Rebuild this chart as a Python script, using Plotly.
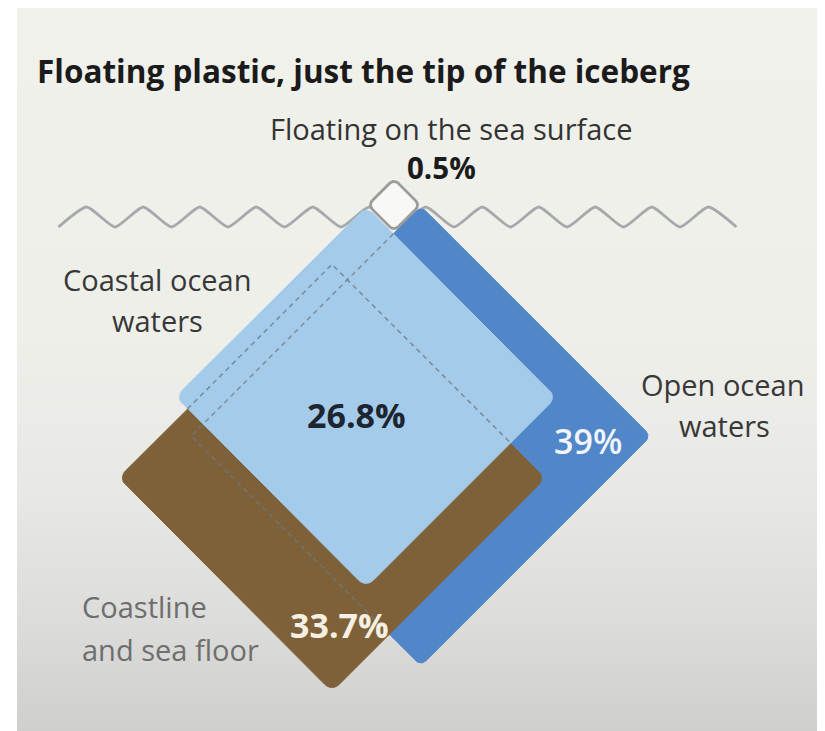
import numpy as np
import plotly.graph_objects as go

W, H = 825, 731          # page size
PAGE_MARGIN = 8          # default <body> margin of the written html page

# ---------------- data ----------------
categories = ["Floating on the sea surface", "Coastal ocean waters",
              "Open ocean waters", "Coastline and sea floor"]
shares = [0.5, 26.8, 39.0, 33.7]            # percent of ocean plastic
value_labels = ["0.5%", "26.8%", "39%", "33.7%"]
label_lines = [["Floating on the sea surface"], ["Coastal ocean", "waters"],
               ["Open ocean", "waters"], ["Coastline", "and sea floor"]]

# ---------------- styling / layout ----------------
fills = ["#f8f8f6", "#a5cbea", "#5187c8", "#7f6139"]
corner_r = [6, 10, 7, 10]
# diamond centres in page pixels (x, y downwards)
centres = [(394, 205), (366, 397), (421, 436), (332, 478)]
PX_PER_SQRT = 36.8   # half-diagonal = k * sqrt(share)  -> area proportional
draw_order = [2, 3, 1]   # open ocean, coastline, coastal; floating drawn last
FONT = "Open Sans"

half = [PX_PER_SQRT * np.sqrt(v) for v in shares]


def rounded_diamond(cx, cy, h, r, n=10):
    s = h * np.sqrt(2)
    a = s / 2 - r
    pts = []
    for ux, uy, st in [(a, a, 0), (-a, a, 90), (-a, -a, 180), (a, -a, 270)]:
        for t in np.linspace(st, st + 90, n):
            pts.append((ux + r * np.cos(np.radians(t)), uy + r * np.sin(np.radians(t))))
    pts.append(pts[0])
    c = np.cos(np.pi / 4)
    xs = [cx + (px - py) * c for px, py in pts]
    ys = [cy + (px + py) * c for px, py in pts]
    return xs, ys


def verts(i):
    cx, cy = centres[i]
    h = half[i]
    return {"top": (cx, cy - h), "bottom": (cx, cy + h),
            "left": (cx - h, cy), "right": (cx + h, cy)}


def intersect(p1, p2, p3, p4):
    (x1, y1), (x2, y2), (x3, y3), (x4, y4) = p1, p2, p3, p4
    d = (x1 - x2) * (y3 - y4) - (y1 - y2) * (x3 - x4)
    t = ((x1 - x3) * (y3 - y4) - (y1 - y3) * (x3 - x4)) / d
    return (x1 + t * (x2 - x1), y1 + t * (y2 - y1))


fig = go.Figure()

# background gradient (page decoration)
stops = [(6, (241, 241, 236)), (330, (239, 239, 234)), (500, (231, 231, 228)),
         (620, (220, 220, 218)), (731, (207, 207, 206))]
shapes = [dict(type="rect", xref="x", yref="y", x0=0, x1=W, y0=0, y1=H,
               fillcolor="white", line_width=0, layer="below")]
band = 4
for y0 in range(6, H, band):
    ym = y0 + band / 2
    col = stops[-1][1]
    for (ya, ca), (yb, cb) in zip(stops[:-1], stops[1:]):
        if ya <= ym <= yb:
            f = (ym - ya) / (yb - ya)
            col = tuple(int(round(ca[k] + f * (cb[k] - ca[k]))) for k in range(3))
            break
    shapes.append(dict(type="rect", xref="x", yref="y", x0=17, x1=W, y0=y0,
                       y1=min(y0 + band + 0.5, H), fillcolor="rgb(%d,%d,%d)" % col,
                       line_width=0, layer="below"))

# sea surface wave
wave_x0, wave_step, wave_n = 58.5, 28.25, 24
wx = [wave_x0 + i * wave_step for i in range(wave_n + 1)]
wy = [227 if i % 2 == 0 else 207 for i in range(wave_n + 1)]
fig.add_trace(go.Scatter(x=wx, y=wy, mode="lines",
                         line=dict(color="#a6a9ac", width=2.8, shape="spline", smoothing=0.55),
                         hoverinfo="skip", showlegend=False))

# diamonds
for i in draw_order:
    xs, ys = rounded_diamond(centres[i][0], centres[i][1], half[i], corner_r[i])
    fig.add_trace(go.Scatter(x=xs, y=ys, mode="lines", fill="toself",
                             fillcolor=fills[i], line=dict(color=fills[i], width=1),
                             name=categories[i], hoverinfo="name", showlegend=False))

# hidden outlines (dashed)
lb, db, br = verts(1), verts(2), verts(3)
p_start = intersect(db["top"], db["left"], lb["top"], lb["right"])
p_end = intersect(db["left"], db["bottom"], br["bottom"], br["right"])
fig.add_trace(go.Scatter(x=[p_start[0], db["left"][0], p_end[0]],
                         y=[p_start[1], db["left"][1], p_end[1]], mode="lines",
                         line=dict(color="rgba(105,122,135,0.7)", width=1.6, dash="5px,4px"),
                         hoverinfo="skip", showlegend=False))
q_start = intersect(br["left"], br["top"], lb["left"], lb["bottom"])
q_end = intersect(br["top"], br["right"], lb["bottom"], lb["right"])
fig.add_trace(go.Scatter(x=[q_start[0], br["top"][0], q_end[0]],
                         y=[q_start[1], br["top"][1], q_end[1]], mode="lines",
                         line=dict(color="rgba(105,122,135,0.75)", width=1.6, dash="5px,4px"),
                         hoverinfo="skip", showlegend=False))

# floating part
xs, ys = rounded_diamond(centres[0][0], centres[0][1], half[0], corner_r[0])
fig.add_trace(go.Scatter(x=xs, y=ys, mode="lines", fill="toself", fillcolor=fills[0],
                         line=dict(color="#9c9c9c", width=2.8), name=categories[0],
                         hoverinfo="name", showlegend=False))

# ---------------- text ----------------
ann = []


def txt(s, x, y, size, color, weight="normal", xanchor="center"):
    ann.append(dict(text=s, x=x, y=y, xref="x", yref="y", showarrow=False,
                    xanchor=xanchor, yanchor="middle",
                    font=dict(family=FONT, size=size, color=color, weight=weight)))


txt("Floating plastic, just the tip of the iceberg", 35, 70, 31.5, "#1b1b1b", "bold", "left")
txt(label_lines[0][0], 451, 128, 29, "#333333")
txt(value_labels[0], 441, 167, 29.5, "#1b1b1b", "bold")
txt(label_lines[1][0], 157, 279, 29, "#383838")
txt(label_lines[1][1], 157, 320, 29, "#383838")
txt(value_labels[1], 356, 415, 34, "#1c2530", "bold")
txt(label_lines[2][0], 722, 384, 29, "#383838")
txt(label_lines[2][1], 724, 425, 29, "#383838")
txt(value_labels[2], 588, 441, 34, "#f2f5fb", 600)
txt(label_lines[3][0], 80, 606, 29, "#6e6e6e", "normal", "left")
txt(label_lines[3][1], 80, 649, 29, "#6e6e6e", "normal", "left")
txt(value_labels[3], 339, 625, 34, "#f6f0e2", "bold")

# the figure sits inside the page's body margin, so map data units to page pixels
fig.update_layout(
    width=W - PAGE_MARGIN, height=H - PAGE_MARGIN, autosize=False,
    margin=dict(l=0, r=0, t=0, b=0),
    paper_bgcolor="white", plot_bgcolor="white",
    xaxis=dict(range=[PAGE_MARGIN, W], visible=False, fixedrange=True),
    yaxis=dict(range=[H, PAGE_MARGIN], visible=False, fixedrange=True),
    shapes=shapes, annotations=ann, showlegend=False,
)

fig.write_html("out.html", config={"displayModeBar": False})
